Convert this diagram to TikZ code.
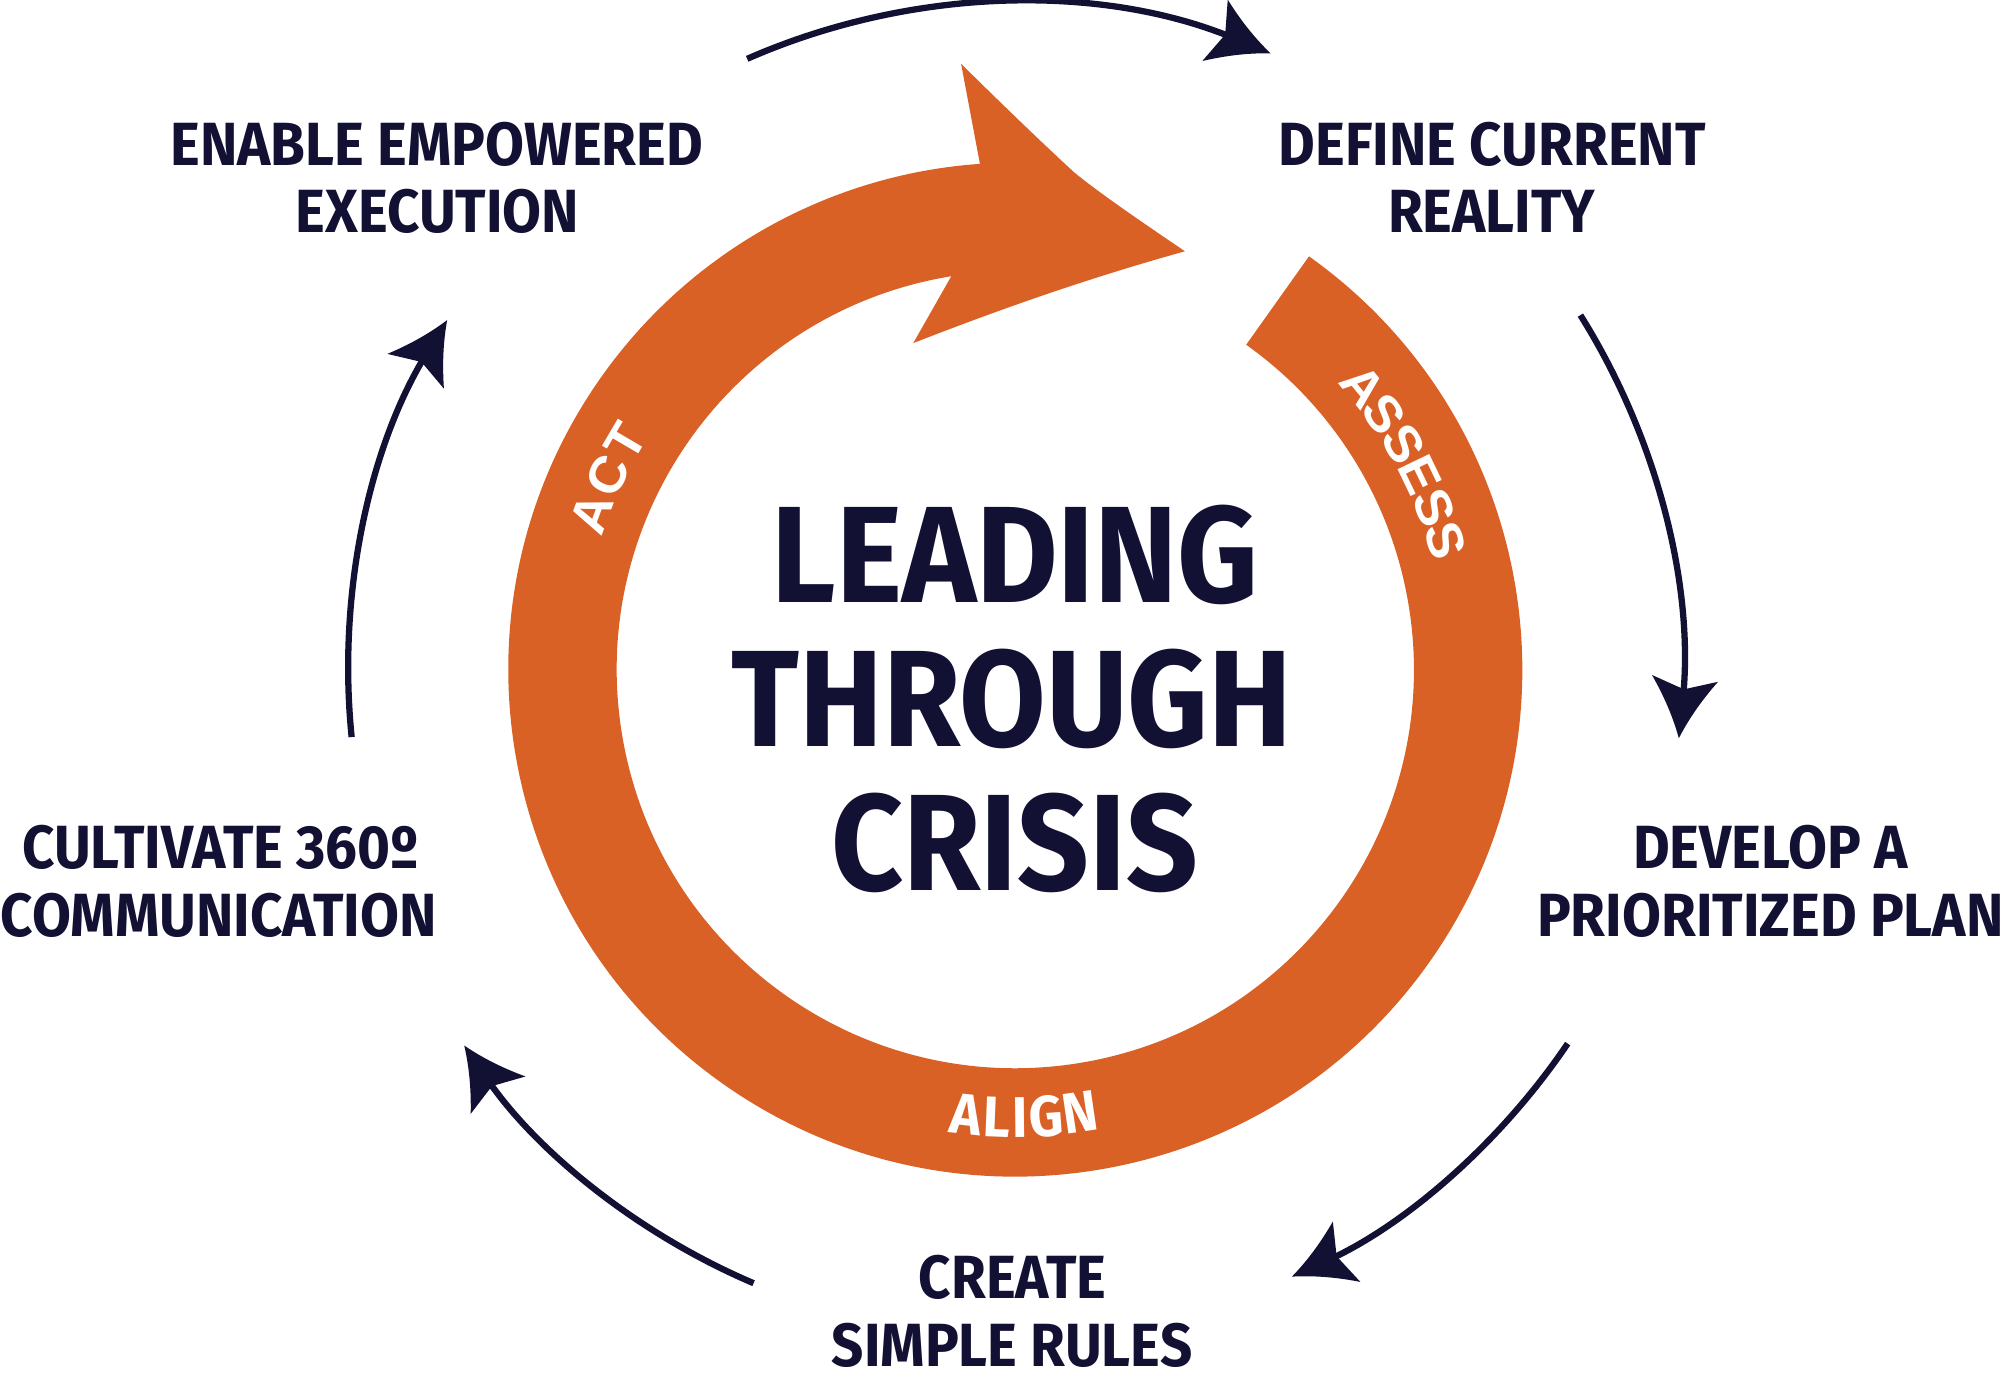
\documentclass[tikz,border=0pt]{standalone}
\usepackage{fontspec}
\newfontfamily\lblfont{Fira Sans}[FakeStretch=0.925]
\newfontfamily\ttlfont{Fira Sans}[FakeStretch=0.915]
\newfontfamily\ringfont{Liberation Sans}[FakeStretch=1.04]
\definecolor{navy}{HTML}{121134}
\definecolor{rust}{HTML}{DA6125}

\pgfdeclarearrow{
  name = CurvStealth,
  setup code = {
    \pgfarrowssettipend{0pt}
    \pgfarrowssetbackend{-13.4pt}
    \pgfarrowssetlineend{-9pt}
  },
  drawing code = {
    \pgfpathmoveto{\pgfpoint{0pt}{0pt}}
    \pgfpathcurveto{\pgfpoint{-5.1pt}{2pt}}{\pgfpoint{-9.4pt}{4.55pt}}{\pgfpoint{-13.4pt}{7.4pt}}
    \pgfpathlineto{\pgfpoint{-10.95pt}{0pt}}
    \pgfpathlineto{\pgfpoint{-13.4pt}{-7.4pt}}
    \pgfpathcurveto{\pgfpoint{-9.4pt}{-4.55pt}}{\pgfpoint{-5.1pt}{-2pt}}{\pgfpoint{0pt}{0pt}}
    \pgfpathclose
    \pgfusepathqfill
  }
}

\begin{document}
\begin{tikzpicture}[x=0.01cm, y=-0.01cm,
  lbl/.style={font=\lblfont\bfseries\fontsize{13.6}{15}\selectfont, text=navy, inner sep=0pt, anchor=base},
  ttl/.style={font=\ttlfont\bfseries\fontsize{30.6}{33}\selectfont, text=navy, inner sep=0pt, anchor=base},
  ringA/.style={font=\ringfont\bfseries\fontsize{11.4}{13}\selectfont, text=white, inner sep=0pt},
  ringB/.style={font=\lblfont\bfseries\fontsize{12.8}{14}\selectfont, text=white, inner sep=0pt},
  conn/.style={color=navy, line width=1.4pt, -CurvStealth}]

\fill[white] (0,0) rectangle (1568,1080);
\useasboundingbox (0,0) rectangle (1568,1080);
\coordinate (C) at (796,525);

% orange ring arrow
\fill[rust] ([shift={(-54.6:397.5)}]C) arc[start angle=-54.6, end angle=266, radius=397.5]
  -- (753.5,50) .. controls (800,96) and (830,124) .. (842,135)
  .. controls (860,150) and (895,174) .. (929,197)
  .. controls (850,219) and (780,244) .. (716,269)
  -- ([shift={(260.76:312.5)}]C) arc[start angle=260.76, end angle=-54.6, radius=312.5] -- cycle;

% ring labels
\foreach \ch/\ang [count=\i] in {A/-159.7, C/-154.6, T/-149.6}
  \node[ringA, rotate={-90-(\ang)}] (act\i) at ([shift={(\ang:354)}]C) {\ch};
\foreach \ch/\ang [count=\i] in {A/-39.2, S/-34.7, S/-30.2, E/-25.7, S/-21.2, S/-16.7}
  \node[ringA, rotate={-90-(\ang)}] (assess\i) at ([shift={(\ang:352)}]C) {\ch};
\foreach \ch/\ang [count=\i] in {A/96.3, L/92.3, I/89.4, G/86.1, N/81.7}
  \node[ringB, rotate={90-(\ang)}] (align\i) at ([shift={(\ang:351)}]C) {\ch};

% title
\node[ttl] (title1) at (796,472) {LEADING};
\node[ttl] (title2) at (793.5,585) {THROUGH};
\node[ttl] (title3) at (795.5,698) {CRISIS};

% step labels
\node[lbl] (enable1) at (342.5,130) {ENABLE EMPOWERED};
\node[lbl] (enable2) at (343,182) {EXECUTION};
\node[lbl] (define1) at (1170,130) {DEFINE CURRENT};
\node[lbl] (define2) at (1169.5,182) {REALITY};
\node[lbl] (develop1) at (1388,681) {DEVELOP A};
\node[lbl] (develop2) at (1388,734) {PRIORITIZED PLAN};
\node[lbl] (create1) at (794,1018) {CREATE};
\node[lbl] (create2) at (793.5,1071) {SIMPLE RULES};
\node[lbl] (cult1) at (173,681) {CULTIVATE 360º};
\node[lbl] (cult2) at (171.5,734) {COMMUNICATION};

% connectors (arcs around the ring)
\coordinate (arcA) at ([shift={(-113.7:523)}]C);
\coordinate (arcB) at ([shift={(-32.1:523)}]C);
\coordinate (arcC) at ([shift={(34.1:523)}]C);
\coordinate (arcD) at ([shift={(113.1:523)}]C);
\coordinate (arcE) at ([shift={(174.2:523)}]C);
\draw[conn] (arcA) arc[start angle=-113.7, end angle=-67.5, radius=523];
\draw[conn] (arcB) arc[start angle=-32.1, end angle=5.9, radius=523];
\draw[conn] (arcC) arc[start angle=34.1, end angle=65.5, radius=523];
\draw[conn] (arcD) arc[start angle=113.1, end angle=145.7, radius=523];
\draw[conn] (arcE) arc[start angle=174.2, end angle=211.6, radius=523];
\end{tikzpicture}
\end{document}
